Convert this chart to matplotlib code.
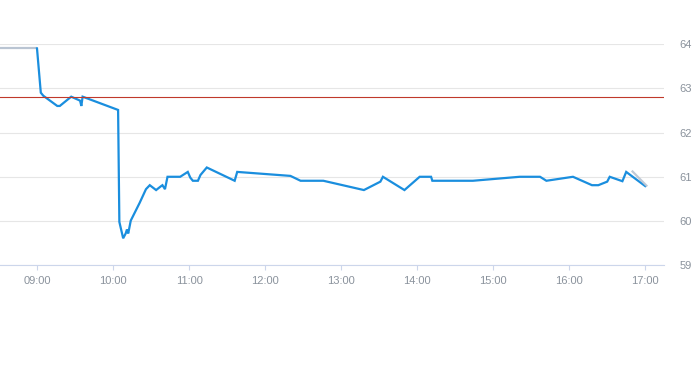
import pandas as pd
import matplotlib
matplotlib.use("Agg")
import matplotlib.pyplot as plt
import matplotlib.dates as mdates

day = "2024-01-02 "

# intraday price (blue)
times = ["09:00", "09:03", "09:05", "09:16", "09:18", "09:27", "09:34", "09:35",
         "09:36", "10:04", "10:05", "10:08", "10:10", "10:11", "10:12", "10:14",
         "10:21", "10:26", "10:29", "10:34", "10:38", "10:39", "10:41", "10:43",
         "10:53", "10:59", "11:01", "11:03", "11:07", "11:09", "11:14", "11:36",
         "11:38", "12:20", "12:28", "12:46", "13:18", "13:31", "13:33", "13:50",
         "14:02", "14:11", "14:12", "14:44", "15:21", "15:37", "15:42", "16:03",
         "16:18", "16:23", "16:30", "16:32", "16:42", "16:45", "17:00"]
prices = [63.90, 62.90, 62.83, 62.60, 62.60, 62.81, 62.72, 62.60,
          62.81, 62.51, 59.98, 59.61, 59.72, 59.81, 59.72, 60.01,
          60.41, 60.72, 60.81, 60.70, 60.79, 60.81, 60.72, 61.00,
          61.00, 61.11, 60.98, 60.91, 60.91, 61.04, 61.21, 60.91,
          61.11, 61.02, 60.91, 60.91, 60.70, 60.89, 61.00, 60.70,
          61.00, 61.00, 60.91, 60.91, 61.00, 61.00, 60.91, 61.00,
          60.81, 60.81, 60.89, 61.00, 60.90, 61.11, 60.79]

# pre-open and after-hours segments (grey)
pre_times = ["08:31", "09:00"]
pre_prices = [63.90, 63.90]
post_times = ["16:50", "17:01"]
post_prices = [61.12, 60.80]

prev_close = 62.80
y_ticks = [59, 60, 61, 62, 63, 64]
x_ticks = ["09:00", "10:00", "11:00", "12:00", "13:00", "14:00", "15:00", "16:00", "17:00"]


def to_dt(lst):
    return pd.to_datetime([day + t for t in lst])


plt.rcParams['font.family'] = ['Liberation Sans', 'DejaVu Sans']

fig = plt.figure(figsize=(6.93, 3.65), dpi=100)
ax = fig.add_axes([0.0, 1 - 265.3 / 365, 664 / 693, (265.3 - 44) / 365])

ax.set_ylim(59, 64)
ax.set_xlim(pd.Timestamp(day + "08:30:48"), pd.Timestamp(day + "17:14:50"))

ax.set_yticks(y_ticks)
ax.grid(axis="y", color="#e6e6e6", lw=0.8)
ax.set_axisbelow(True)

ax.plot(to_dt(pre_times), pre_prices, color="#b9c4d2", lw=1.6, solid_capstyle="butt")
ax.plot(to_dt(times), prices, color="#1a8ede", lw=1.6, solid_joinstyle="miter")
ax.plot(to_dt(post_times), post_prices, color="#b9c4d2", lw=1.6, alpha=0.9)
ax.axhline(prev_close, color="#c0392b", lw=0.8)

ax.set_xticks(to_dt(x_ticks))
ax.xaxis.set_major_formatter(mdates.DateFormatter("%H:%M"))

for s in ["top", "left", "right"]:
    ax.spines[s].set_visible(False)
ax.spines["bottom"].set_color("#ccd6eb")
ax.spines["bottom"].set_linewidth(0.8)

ax.tick_params(axis="x", length=3.6, width=0.8, color="#ccd6eb",
               labelcolor="#8a929c", labelsize=8, pad=4)
ax.tick_params(axis="y", length=0, left=False, right=False, labelleft=False,
               labelright=True, labelcolor="#8a929c", labelsize=8, pad=11.3)
for lab in ax.get_yticklabels():
    lab.set_horizontalalignment("left")

fig.savefig("out.png", dpi=100)
